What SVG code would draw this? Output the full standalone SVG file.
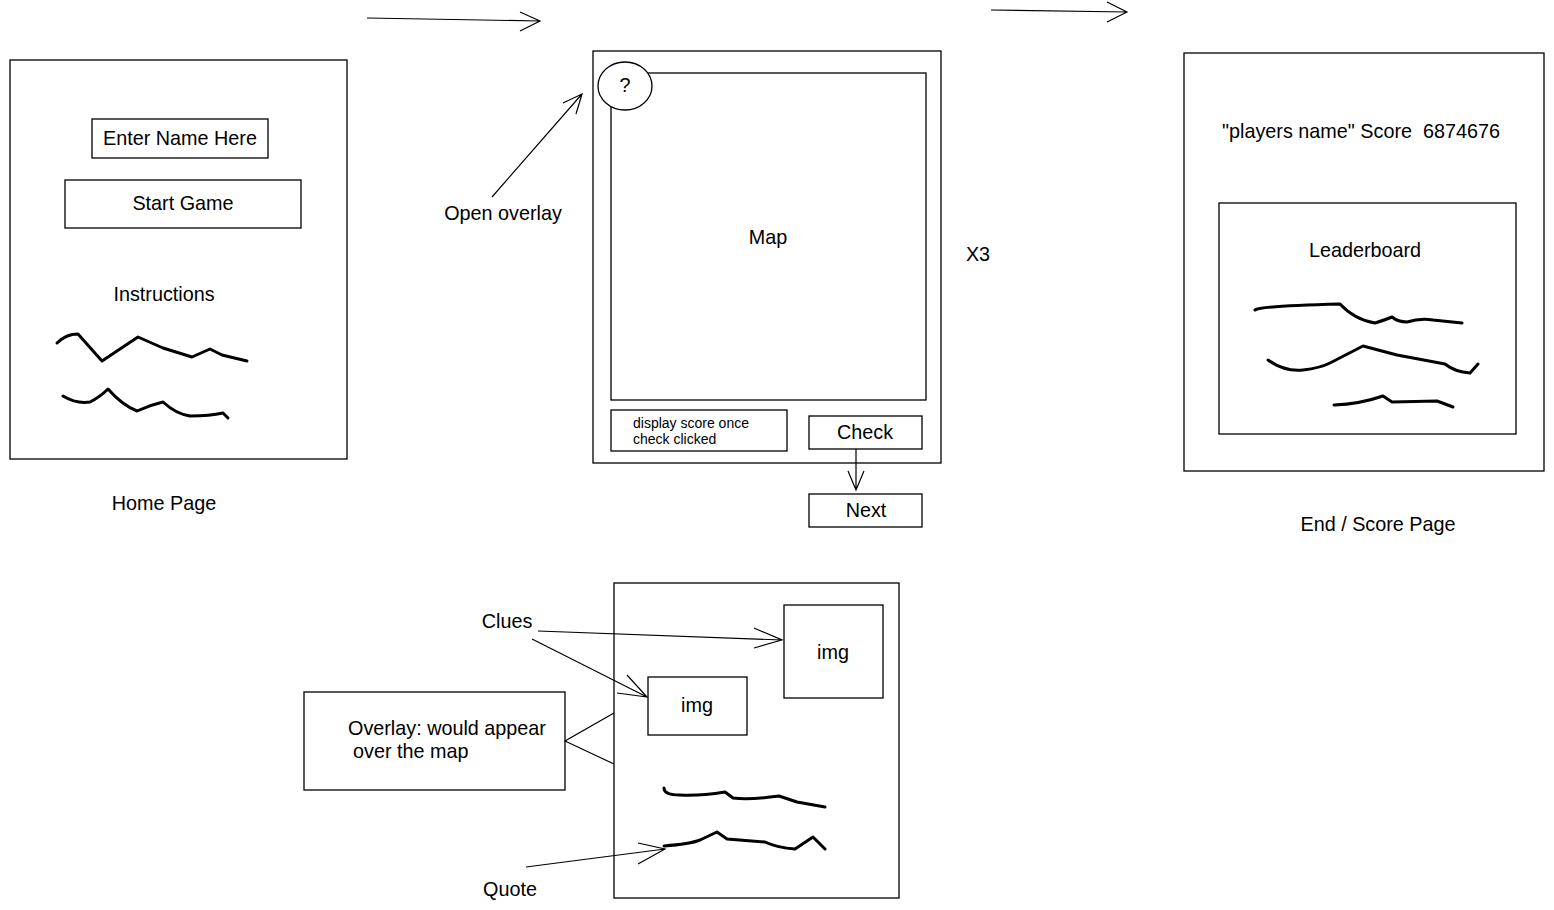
<svg xmlns="http://www.w3.org/2000/svg" width="1554" height="910" viewBox="0 0 1554 910">
<style>
.b{fill:#fff;stroke:#000;stroke-width:1.3}
.t{font-family:"Liberation Sans",Arial,sans-serif;font-size:19.8px;fill:#000;text-anchor:middle;dominant-baseline:central}
.s{font-family:"Liberation Sans",Arial,sans-serif;font-size:14px;fill:#000}
.l{font-family:"Liberation Sans",Arial,sans-serif;font-size:19.8px;fill:#000}
.c{fill:none;stroke:#000;stroke-width:1.2}
.q{fill:none;stroke:#000;stroke-width:3;stroke-linecap:round;stroke-linejoin:round}
</style>
<rect width="1554" height="910" fill="#fff"/>
<g id="home-page">
<rect class="b" x="10" y="60" width="337" height="399"/>
<rect class="b" x="92" y="119" width="176" height="39"/>
<text class="t" x="180" y="138">Enter Name Here</text>
<rect class="b" x="65" y="180" width="236" height="48"/>
<text class="t" x="183" y="203">Start Game</text>
<text class="t" x="164" y="294">Instructions</text>
<path class="q" d="M57,343 Q66,334 78,334 L102,361 L138,337 L163,348 L192,357 L210,349 L222,355 L247,361"/>
<path class="q" d="M63,396 Q76,404 90,402 Q100,397 108,389 Q122,405 137,411 Q150,405 163,402 Q176,414 190,416 Q210,416 223,413 L228,418"/>
<text class="t" x="164" y="503">Home Page</text>
</g>
<g id="map-page">
<rect class="b" x="593" y="51" width="348" height="412"/>
<rect class="b" x="611" y="73" width="315" height="327"/>
<ellipse class="b" cx="625" cy="86" rx="27" ry="24"/>
<text class="t" x="625" y="85">?</text>
<text class="t" x="768" y="237">Map</text>
<rect class="b" x="611" y="410" width="176" height="41"/>
<text class="s" x="633" y="428">display score once</text>
<text class="s" x="633" y="444">check clicked</text>
<rect class="b" x="809" y="416" width="113" height="33"/>
<text class="t" x="865" y="432">Check</text>
<rect class="b" x="809" y="494" width="113" height="33"/>
<text class="t" x="866" y="510">Next</text>
</g>
<text id="x3" class="t" x="978" y="254">X3</text>
<text id="open-overlay" class="t" x="503" y="213">Open overlay</text>
<g id="end-page">
<rect class="b" x="1184" y="53" width="360" height="418"/>
<text class="t" x="1361" y="131" xml:space="preserve">"players name" Score  6874676</text>
<rect class="b" x="1219" y="203" width="297" height="231"/>
<text class="t" x="1365" y="250">Leaderboard</text>
<path class="q" d="M1255,310 Q1260,306 1340,304 Q1355,320 1375,323 Q1385,320 1392,317 Q1398,322 1407,322 Q1420,318 1433,320 L1462,323"/>
<path class="q" d="M1268,360 Q1285,372 1303,370 Q1320,368 1330,363 L1363,346 L1397,355 L1445,364 Q1455,372 1470,373 L1478,364"/>
<path class="q" d="M1334,405 Q1360,404 1383,396 L1392,402 L1437,401 L1453,407"/>
<text class="t" x="1378" y="524">End / Score Page</text>
</g>
<g id="overlay-page">
<rect class="b" x="614" y="583" width="285" height="315"/>
<rect class="b" x="784" y="605" width="99" height="93"/>
<text class="t" x="833" y="652">img</text>
<rect class="b" x="648" y="677" width="99" height="58"/>
<text class="t" x="697" y="705">img</text>
<path class="q" d="M664,788 Q664,795 680,795 Q700,796 725,792 L733,798 Q750,800 779,796 L797,802 L825,807"/>
<path class="q" d="M664,846 Q690,844 700,840 L717,832 L727,839 L765,842 Q778,848 795,849 L813,837 L825,849"/>
</g>
<g id="overlay-note">
<rect class="b" x="304" y="692" width="261" height="98"/>
<text class="l" x="348" y="735">Overlay: would appear</text>
<text class="l" x="353" y="758">over the map</text>
</g>
<text id="clues" class="t" x="507" y="621">Clues</text>
<text id="quote" class="t" x="510" y="889">Quote</text>
<g id="connectors">
<path class="c" d="M367,18 L540,21 M520,12 L540,21 L520,31"/>
<path class="c" d="M991,10 L1127,12 M1107,2 L1127,12 L1107,22"/>
<path class="c" d="M492,197 L582,94 M563,103 L582,94 L576,114"/>
<path class="c" d="M856,449 L856,490 M848,471 L856,490 L864,471"/>
<path class="c" d="M538,631 L782,640 M754,628 L782,640 L754,648"/>
<path class="c" d="M532,639 L647,697 M627,675 L647,697 L617,693"/>
<path class="c" d="M526,867 L665,849 M638,843 L665,849 L638,864"/>
<path class="c" d="M614,713 L565,741 L614,764"/>
</g>
</svg>
